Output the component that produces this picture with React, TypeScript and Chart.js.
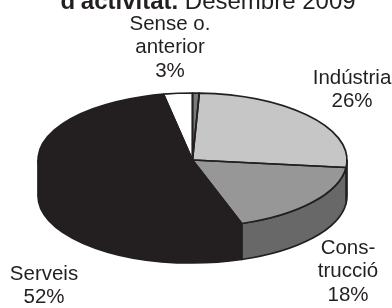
import React, { useEffect, useRef } from "react";
import { Chart, registerables } from "chart.js";

Chart.register(...registerables);

// ---- data ----
const categories = ["Agricultura", "Indústria", "Construcció", "Serveis", "Sense o. anterior"];
const shares = [0.7, 26, 18, 52, 3];
const labelLines: string[][] = [[], ["Indústria", "26%"], ["Cons-", "trucció", "18%"], ["Serveis", "52%"], ["Sense o.", "anterior", "3%"]];
const titleBold = "d'activitat.";
const titleNormal = " Desembre 2009";

// ---- style ----
const topColors = ["#7a7a7a", "#c6c6c6", "#979797", "#231f20", "#ffffff"];
const sideColors = ["#555555", "#9a9a9a", "#686868", "#231f20", "#d8d8d8"];
const EDGE = "#231f20";
const LINE_W = 1.7;
const RX = 154.5;
const RY = 67;
const DEPTH = 36;
const LABEL_FONT = "20.5px 'Liberation Sans', Arial, sans-serif";
const LINE_H = 23.5;
const labelAnchors: (number[] | null)[] = [null, [352, 78], [348, 248], [44, 274], [170, 24]];

const pie3d = {
  id: "pie3d",
  beforeDatasetsDraw(chart: any) {
    const ctx = chart.ctx as CanvasRenderingContext2D;
    const arcs = chart.getDatasetMeta(0).data as any[];
    chart.$pieSaved = false;
    if (!arcs.length) return;
    const { x: cx, y: cy, outerRadius: r } = arcs[0];
    arcs.forEach((a, i) => {
      const s = Math.max(a.startAngle, 0);
      const e = Math.min(a.endAngle, Math.PI);
      if (e <= s) return;
      ctx.beginPath();
      ctx.ellipse(cx, cy, RX, RY, 0, s, e);
      ctx.ellipse(cx, cy + DEPTH, RX, RY, 0, e, s, true);
      ctx.closePath();
      ctx.fillStyle = sideColors[i];
      ctx.fill();
      ctx.lineWidth = LINE_W;
      ctx.strokeStyle = EDGE;
      ctx.lineJoin = "round";
      ctx.stroke();
    });
    ctx.save();
    ctx.translate(cx, cy);
    ctx.scale(RX / r, RY / r);
    ctx.translate(-cx, -cy);
    chart.$pieSaved = true;
  },
  afterDatasetsDraw(chart: any) {
    const ctx = chart.ctx as CanvasRenderingContext2D;
    if (chart.$pieSaved) ctx.restore();
    const arcs = chart.getDatasetMeta(0).data as any[];
    if (!arcs.length) return;
    const { x: cx, y: cy } = arcs[0];
    ctx.save();
    ctx.lineWidth = LINE_W;
    ctx.strokeStyle = EDGE;
    ctx.lineJoin = "round";
    arcs.forEach((a) => {
      ctx.beginPath();
      ctx.moveTo(cx, cy);
      ctx.ellipse(cx, cy, RX, RY, 0, a.startAngle, a.endAngle);
      ctx.closePath();
      ctx.stroke();
    });
    // labels
    ctx.fillStyle = EDGE;
    ctx.font = LABEL_FONT;
    ctx.textAlign = "center";
    ctx.textBaseline = "middle";
    labelLines.forEach((lines, i) => {
      const p = labelAnchors[i];
      if (!p) return;
      lines.forEach((t, k) => ctx.fillText(t, p[0], p[1] + k * LINE_H));
    });
    // title
    ctx.textAlign = "left";
    ctx.textBaseline = "alphabetic";
    ctx.font = "bold 24px 'Liberation Sans', Arial, sans-serif";
    const wb = ctx.measureText(titleBold).width;
    ctx.font = "24px 'Liberation Sans', Arial, sans-serif";
    const wn = ctx.measureText(titleNormal).width;
    const x0 = 208 - (wb + wn) / 2;
    ctx.font = "bold 24px 'Liberation Sans', Arial, sans-serif";
    ctx.fillText(titleBold, x0, 9);
    ctx.font = "24px 'Liberation Sans', Arial, sans-serif";
    ctx.fillText(titleNormal, x0 + wb, 9);
    ctx.restore();
  },
};

export default function App() {
  const ref = useRef<HTMLCanvasElement>(null);
  useEffect(() => {
    if (!ref.current) return;
    const chart = new Chart(ref.current, {
      type: "pie",
      data: {
        labels: categories,
        datasets: [
          {
            data: shares,
            backgroundColor: topColors,
            borderWidth: 0,
            clip: false as any,
          } as any,
        ],
      },
      options: {
        animation: false,
        responsive: true,
        maintainAspectRatio: false,
        layout: { padding: { left: 0, right: 7, top: 30, bottom: 18 } },
        plugins: { legend: { display: false }, tooltip: { enabled: false }, title: { display: false } },
        events: [],
      },
      plugins: [pie3d],
    });
    return () => chart.destroy();
  }, []);
  return (
    <div style={{ position: "fixed", left: 0, top: 0, width: 392, height: 308, background: "#fff" }}>
      <canvas ref={ref} style={{ display: "block", width: 392, height: 308 }} />
    </div>
  );
}
